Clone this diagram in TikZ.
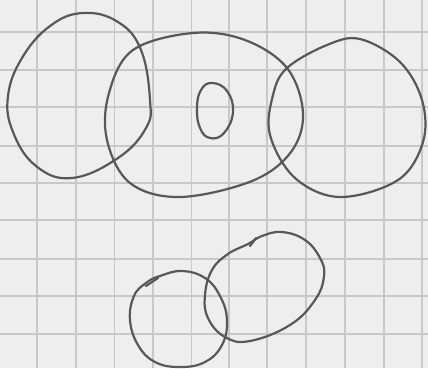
\documentclass[tikz,border=0pt]{standalone}
\definecolor{paper}{RGB}{238,238,238}
\definecolor{gridc}{RGB}{200,200,200}
\definecolor{ink}{RGB}{88,88,88}
\tikzset{pencil/.style={draw=ink,line width=2.2pt,line join=round,line cap=round},
gridline/.style={draw=gridc,line width=1.1pt}}
\begin{document}
\begin{tikzpicture}[x=1pt,y=-1pt]
\fill[paper] (0,0) rectangle (428,368);
\useasboundingbox (0,0) rectangle (428,368);
\foreach \x in {37,76,114.5,153,191.5,229,267,306,345,384,422}
  \draw[gridline] (\x,0) -- (\x,368);
\foreach \y in {32,70,107,146,183,220,259,296,334}
  \draw[gridline] (0,\y) -- (428,\y);
% left egg
\draw[pencil] plot[smooth cycle,tension=0.7] coordinates {(83,13) (118,22) (141,50) (150,100) (146,128) (118,158) (72,178) (36,166) (13,132) (8,96) (22,58) (50,26)};
% big middle
\draw[pencil] plot[smooth cycle,tension=0.6] coordinates {(133,50) (193,33) (245,40) (287,68) (303,113) (291,152) (252,181) (180,197) (130,183) (107,140) (109,93)};
% small inner
\draw[pencil] plot[smooth cycle,tension=0.75] coordinates {(212,83) (227,91) (233,112) (224,133) (210,138) (200,128) (197,108) (201,90)};
% right circle
\draw[pencil] plot[smooth cycle,tension=0.6] coordinates {(287,68) (327,45) (360,39) (400,62) (422,100) (423,142) (398,180) (340,197) (295,178) (270,135) (273,95)};
% bottom left circle
\draw[pencil] plot[smooth cycle,tension=0.7] coordinates {(160,276) (182,271) (205,278) (220,296) (227,320) (222,345) (205,362) (180,367) (155,362) (138,345) (130,320) (134,296) (146,283)};
\draw[pencil] (146,286) -- (158,278);
% bottom right ellipse
\draw[pencil] plot[smooth cycle,tension=0.7] coordinates {(262,236) (282,232) (305,240) (320,258) (324,276) (315,300) (290,325) (250,341) (225,337) (208,318) (205,295) (212,270) (228,254) (248,244)};
\draw[pencil] (250,246) -- (256,238);
\end{tikzpicture}
\end{document}
